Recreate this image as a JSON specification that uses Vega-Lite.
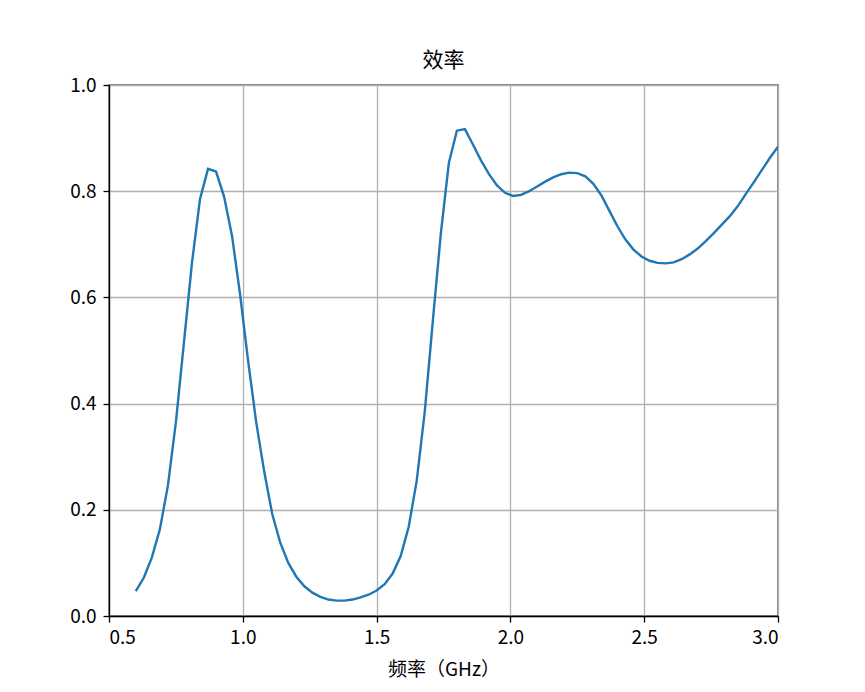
{
  "$schema": "https://vega.github.io/schema/vega-lite/v6.json",
  "width": 669,
  "height": 531,
  "autosize": {"type": "none"},
  "padding": {"left": 109, "top": 85, "right": 87, "bottom": 76},
  "background": "white",
  "title": {"text": "效率", "font": "Noto Sans CJK SC", "fontSize": 21, "fontWeight": "normal", "color": "black", "offset": 5, "anchor": "middle"},
  "data": {"values": [
    {"f": 0.60, "v": 0.047}, {"f": 0.63, "v": 0.072}, {"f": 0.66, "v": 0.110}, {"f": 0.69, "v": 0.163},
    {"f": 0.72, "v": 0.245}, {"f": 0.75, "v": 0.365}, {"f": 0.78, "v": 0.515}, {"f": 0.81, "v": 0.665},
    {"f": 0.84, "v": 0.785}, {"f": 0.87, "v": 0.842}, {"f": 0.90, "v": 0.837}, {"f": 0.93, "v": 0.790},
    {"f": 0.96, "v": 0.715}, {"f": 0.99, "v": 0.605}, {"f": 1.02, "v": 0.480}, {"f": 1.05, "v": 0.365},
    {"f": 1.08, "v": 0.272}, {"f": 1.11, "v": 0.192}, {"f": 1.14, "v": 0.138}, {"f": 1.17, "v": 0.100},
    {"f": 1.20, "v": 0.074}, {"f": 1.23, "v": 0.056}, {"f": 1.26, "v": 0.044}, {"f": 1.29, "v": 0.036},
    {"f": 1.32, "v": 0.031}, {"f": 1.35, "v": 0.029}, {"f": 1.38, "v": 0.029}, {"f": 1.41, "v": 0.031},
    {"f": 1.44, "v": 0.035}, {"f": 1.47, "v": 0.040}, {"f": 1.50, "v": 0.048}, {"f": 1.53, "v": 0.060},
    {"f": 1.56, "v": 0.080}, {"f": 1.59, "v": 0.113}, {"f": 1.62, "v": 0.168}, {"f": 1.65, "v": 0.255},
    {"f": 1.68, "v": 0.385}, {"f": 1.71, "v": 0.555}, {"f": 1.74, "v": 0.720}, {"f": 1.77, "v": 0.853},
    {"f": 1.80, "v": 0.914}, {"f": 1.83, "v": 0.917}, {"f": 1.86, "v": 0.888}, {"f": 1.89, "v": 0.858},
    {"f": 1.92, "v": 0.832}, {"f": 1.95, "v": 0.811}, {"f": 1.98, "v": 0.797}, {"f": 2.01, "v": 0.791},
    {"f": 2.04, "v": 0.793}, {"f": 2.07, "v": 0.800}, {"f": 2.10, "v": 0.809}, {"f": 2.13, "v": 0.818},
    {"f": 2.16, "v": 0.826}, {"f": 2.19, "v": 0.832}, {"f": 2.22, "v": 0.835}, {"f": 2.25, "v": 0.834},
    {"f": 2.28, "v": 0.828}, {"f": 2.31, "v": 0.814}, {"f": 2.34, "v": 0.792}, {"f": 2.37, "v": 0.763},
    {"f": 2.40, "v": 0.734}, {"f": 2.43, "v": 0.709}, {"f": 2.46, "v": 0.690}, {"f": 2.49, "v": 0.677},
    {"f": 2.52, "v": 0.669}, {"f": 2.55, "v": 0.665}, {"f": 2.58, "v": 0.664}, {"f": 2.61, "v": 0.666},
    {"f": 2.64, "v": 0.672}, {"f": 2.67, "v": 0.681}, {"f": 2.70, "v": 0.692}, {"f": 2.73, "v": 0.706},
    {"f": 2.76, "v": 0.721}, {"f": 2.79, "v": 0.737}, {"f": 2.82, "v": 0.753}, {"f": 2.85, "v": 0.772},
    {"f": 2.88, "v": 0.795}, {"f": 2.91, "v": 0.817}, {"f": 2.94, "v": 0.840}, {"f": 2.97, "v": 0.863},
    {"f": 3.00, "v": 0.884}
  ]},
  "mark": {"type": "line", "color": "#1f77b4", "strokeWidth": 2.4, "clip": true},
  "encoding": {
    "x": {
      "field": "f", "type": "quantitative",
      "scale": {"domain": [0.5, 3.0], "nice": false, "zero": false},
      "axis": {"title": "频率（GHz）", "values": [0.5, 1.0, 1.5, 2.0, 2.5, 3.0], "format": ".1f", "labelPadding": 6, "titlePadding": 13}
    },
    "y": {
      "field": "v", "type": "quantitative",
      "scale": {"domain": [0, 1], "nice": false},
      "axis": {"title": null, "values": [0, 0.2, 0.4, 0.6, 0.8, 1.0], "format": ".1f", "labelPadding": 7}
    }
  },
  "config": {
    "view": {"stroke": "black", "strokeWidth": 1.3},
    "axis": {
      "grid": true, "gridColor": "#b0b0b0", "gridWidth": 1.3, "gridOpacity": 1,
      "domainColor": "black", "domainWidth": 1.3,
      "tickColor": "black", "tickSize": 6, "tickWidth": 1.3,
      "labelFont": "Noto Sans CJK SC", "labelFontSize": 19, "labelColor": "black",
      "labelPadding": 4,
      "titleFont": "Noto Sans CJK SC", "titleFontSize": 19, "titleFontWeight": "normal", "titleColor": "black",
      "titlePadding": 10
    }
  }
}
